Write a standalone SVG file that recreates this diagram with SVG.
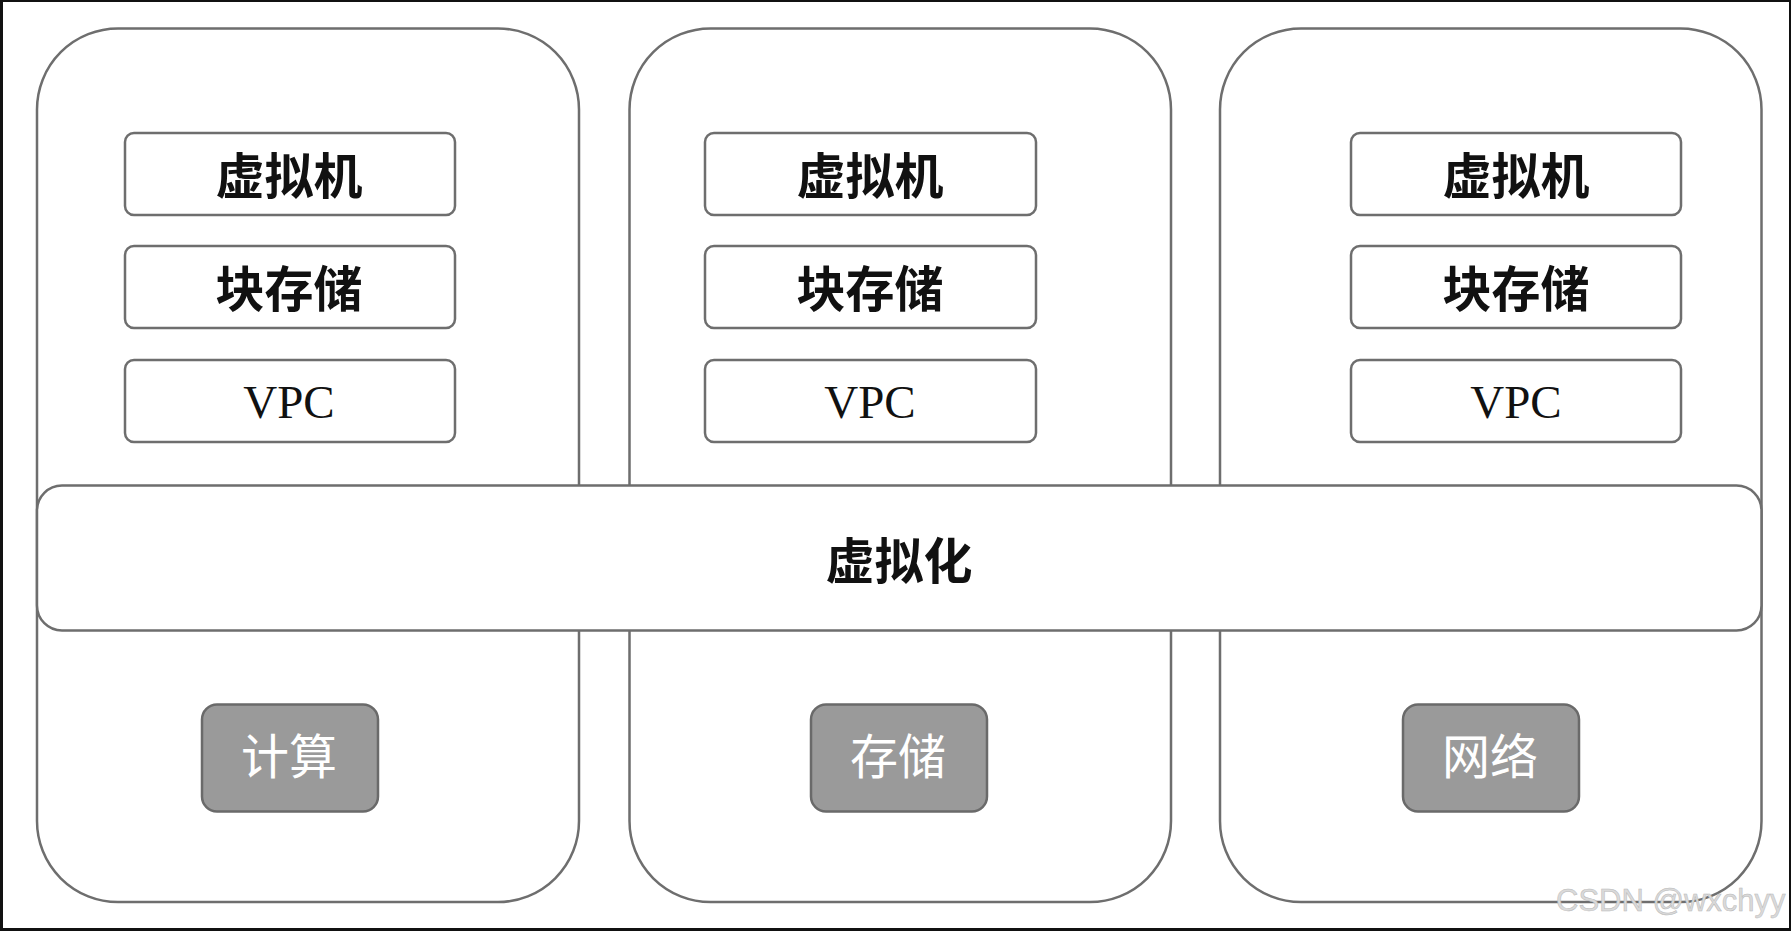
<svg xmlns="http://www.w3.org/2000/svg" width="1791" height="931" viewBox="0 0 1791 931">
<style>
.col{fill:#fff;stroke:#6e6e6e;stroke-width:2.5}
.box{fill:#fff;stroke:#6e6e6e;stroke-width:2.5}
.bar{fill:#fff;stroke:#6e6e6e;stroke-width:2.5}
.grey{fill:#9a9a9a;stroke:#6a6a6a;stroke-width:2.5}
.cjk{font-family:"Noto Sans CJK SC","Noto Sans",sans-serif;font-weight:700;font-size:49px;fill:#111;text-anchor:middle;dominant-baseline:central}
.vpc{font-family:"Liberation Serif",serif;font-size:47px;fill:#111;text-anchor:middle}
.wl{font-family:"Noto Sans CJK SC","Noto Sans",sans-serif;font-weight:400;font-size:48px;fill:#fff;text-anchor:middle;dominant-baseline:central}
.wm{font-family:"Liberation Sans",sans-serif;font-size:31px;fill:#dadada;stroke:#b8b8b8;stroke-width:0.5}
</style>
<rect x="0" y="0" width="1791" height="931" fill="#fff"/>
<g id="columns">
<rect id="col-compute" class="col" x="37" y="28.5" width="542" height="873.5" rx="81" ry="81"/>
<rect id="col-storage" class="col" x="629.5" y="28.5" width="541.5" height="873.5" rx="81" ry="81"/>
<rect id="col-network" class="col" x="1220" y="28.5" width="541.5" height="873.5" rx="81" ry="81"/>
</g>
<g id="col1-boxes">
<g id="vm1"><rect class="box" x="125" y="133" width="330" height="82" rx="9"/><text class="cjk" x="289" y="172">虚拟机</text></g>
<g id="bs1"><rect class="box" x="125" y="246" width="330" height="82" rx="9"/><text class="cjk" x="289" y="285">块存储</text></g>
<g id="vpc1"><rect class="box" x="125" y="360" width="330" height="82" rx="9"/><text class="vpc" x="289" y="418">VPC</text></g>
</g>
<g id="col2-boxes">
<g id="vm2"><rect class="box" x="705" y="133" width="331" height="82" rx="9"/><text class="cjk" x="870" y="172">虚拟机</text></g>
<g id="bs2"><rect class="box" x="705" y="246" width="331" height="82" rx="9"/><text class="cjk" x="870" y="285">块存储</text></g>
<g id="vpc2"><rect class="box" x="705" y="360" width="331" height="82" rx="9"/><text class="vpc" x="870" y="418">VPC</text></g>
</g>
<g id="col3-boxes">
<g id="vm3"><rect class="box" x="1351" y="133" width="330" height="82" rx="9"/><text class="cjk" x="1516" y="172">虚拟机</text></g>
<g id="bs3"><rect class="box" x="1351" y="246" width="330" height="82" rx="9"/><text class="cjk" x="1516" y="285">块存储</text></g>
<g id="vpc3"><rect class="box" x="1351" y="360" width="330" height="82" rx="9"/><text class="vpc" x="1516" y="418">VPC</text></g>
</g>
<g id="virtualization">
<rect class="bar" x="37" y="485.5" width="1724.5" height="145" rx="25" ry="25"/>
<text class="cjk" x="899" y="557">虚拟化</text>
</g>
<g id="compute"><rect class="grey" x="202" y="704.5" width="176" height="107" rx="15"/><text class="wl" x="289" y="753">计算</text></g>
<g id="storage"><rect class="grey" x="811" y="704.5" width="176" height="107" rx="15"/><text class="wl" x="898" y="753">存储</text></g>
<g id="network"><rect class="grey" x="1403" y="704.5" width="176" height="107" rx="15"/><text class="wl" x="1490" y="753">网络</text></g>
<g id="connectors"></g>
<text class="wm" x="1556" y="911">CSDN @wxchyy</text>
<g id="frame" fill="#111">
<rect x="0" y="0" width="1791" height="2"/>
<rect x="0" y="0" width="3" height="931"/>
<rect x="1789" y="0" width="2" height="931"/>
<rect x="0" y="928" width="1791" height="3"/>
</g>
</svg>
